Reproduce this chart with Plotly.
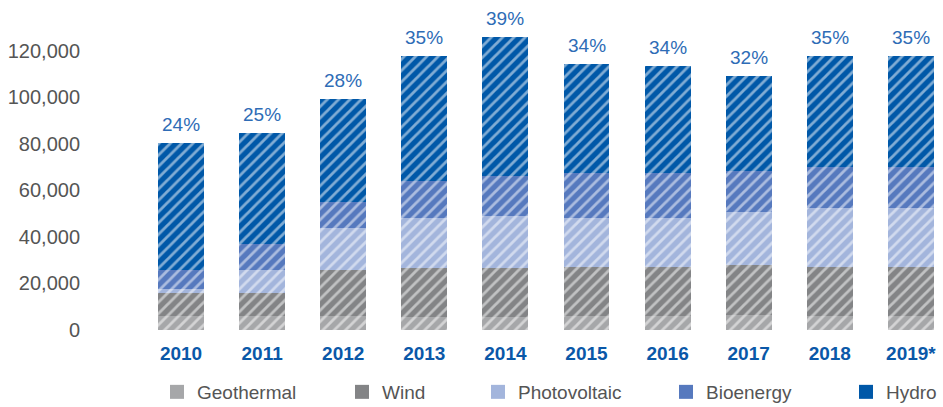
import plotly.graph_objects as go

years = ["2010", "2011", "2012", "2013", "2014", "2015", "2016", "2017", "2018", "2019*"]
geothermal = [6200, 6200, 5800, 5500, 5500, 5800, 5900, 6400, 5900, 5900]
wind = [9800, 9800, 19800, 21100, 21100, 21100, 21100, 21300, 21100, 21100]
photovoltaic = [1400, 9600, 18200, 21500, 22200, 21000, 20900, 23000, 25400, 25400]
bioenergy = [8200, 11200, 11000, 15800, 17500, 19400, 19500, 17600, 17500, 17500]
hydro = [54600, 47700, 44300, 53700, 59600, 46900, 45900, 40700, 47700, 47700]
shares = ["24%", "25%", "28%", "35%", "39%", "34%", "34%", "32%", "35%", "35%"]

series = [
    ("Geothermal", geothermal, "#a6a7a9"),
    ("Wind", wind, "#838486"),
    ("Photovoltaic", photovoltaic, "#a3b5dc"),
    ("Bioenergy", bioenergy, "#5679be"),
    ("Hydro", hydro, "#0058a8"),
]
legend_x = [157, 342, 478, 666, 846]  # container px of each legend item

FONT = "Liberation Sans, Arial, sans-serif"
fig = go.Figure()

for i, (name, vals, col) in enumerate(series):
    lg = "legend" if i == 0 else f"legend{i + 1}"
    # hatched bar segment
    fig.add_trace(go.Bar(
        x=years, y=vals, name=name, width=0.567, showlegend=False,
        marker=dict(color=col, line=dict(width=0),
                    pattern=dict(shape="/", fillmode="overlay", fgcolor="white",
                                 size=8, solidity=0.35)),
    ))
    # solid square for the legend
    fig.add_trace(go.Scatter(
        x=[None], y=[None], name=name, mode="markers", legend=lg,
        marker=dict(symbol="square", size=14, color=col),
    ))

totals = [sum(v) for v in zip(geothermal, wind, photovoltaic, bioenergy, hydro)]
for i, (tot, s) in enumerate(zip(totals, shares)):
    fig.add_annotation(x=i, y=tot, text=s, showarrow=False, yanchor="bottom", yshift=6,
                       font=dict(family=FONT, size=19, color="#2e6cb6"))

layout_legends = {}
for i, px in enumerate(legend_x):
    key = "legend" if i == 0 else f"legend{i + 1}"
    layout_legends[key] = dict(
        x=px / 943, xref="container", xanchor="left",
        y=1 - 392 / 407, yref="container", yanchor="middle",
        orientation="h", bgcolor="rgba(0,0,0,0)",
        font=dict(family=FONT, size=19, color="#555555"),
    )

fig.update_layout(
    barmode="stack", width=943, height=407,
    plot_bgcolor="white", paper_bgcolor="white",
    margin=dict(l=100, r=0, t=10, b=77),
    font=dict(family=FONT),
    xaxis=dict(type="category", range=[-0.999, 9.396], showgrid=False, zeroline=False,
               showline=False, ticks="", ticklabelstandoff=10, automargin=False,
               tickfont=dict(family=FONT, size=19, color="#0a58a8", weight="bold")),
    yaxis=dict(range=[0, 137388], tickvals=[0, 20000, 40000, 60000, 80000, 100000, 120000],
               tickformat=",", showgrid=False, zeroline=False, showline=False,
               ticks="", ticklabelstandoff=19, automargin=False,
               tickfont=dict(family=FONT, size=20, color="#555555")),
    **layout_legends,
)

fig.write_html("out.html", config={"displayModeBar": False},
               post_script="document.body.style.margin='0';")
